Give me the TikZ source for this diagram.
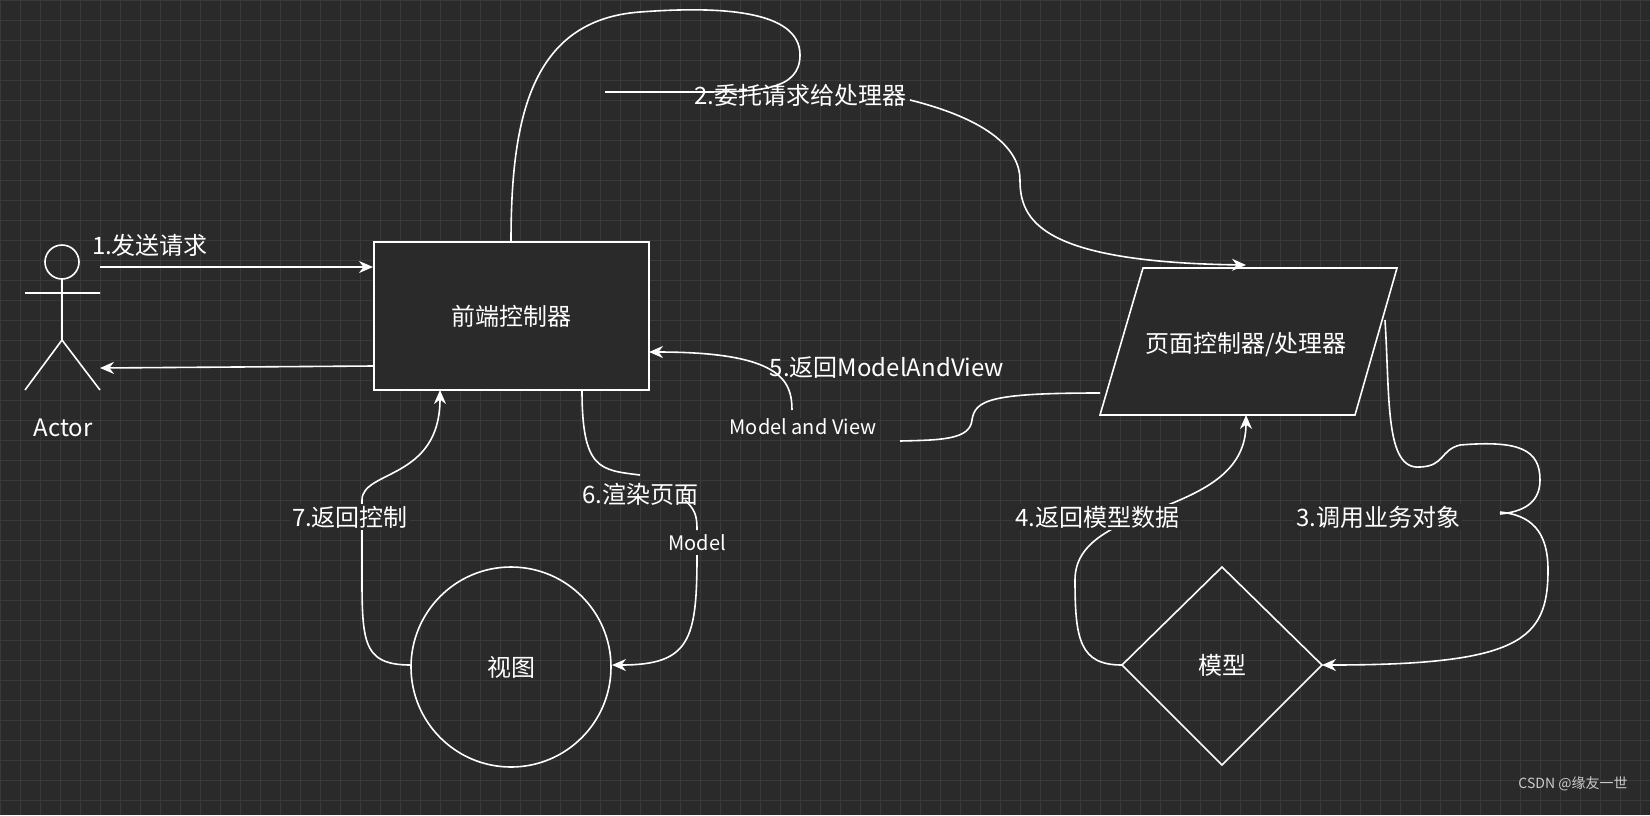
\documentclass[tikz,border=0pt]{standalone}
\usepackage{fontspec}
\setmainfont{Noto Sans CJK SC}
\usetikzlibrary{arrows.meta}
\begin{document}
\begin{tikzpicture}[x=1pt,y=-1pt,
  ln/.style={draw=white,line width=1.6pt},
  ar/.style={ln,-{Stealth[length=14pt,width=12pt]}},
  big/.style={text=white,font=\fontsize{24}{28}\selectfont,inner sep=0pt},
  sm/.style={text=white,font=\fontsize{20}{24}\selectfont,inner sep=1pt,fill=bg}]
\definecolor{bg}{HTML}{2A2A2A}
\definecolor{gr}{HTML}{3A3A3A}
\fill[bg] (0,0) rectangle (1650,815);
\useasboundingbox (0,0) rectangle (1650,815);
\foreach \i in {0,20,...,1640} \draw[gr,line width=0.6pt] (\i,0)--(\i,815);
\foreach \j in {0,20,...,800} \draw[gr,line width=0.6pt] (0,\j)--(1650,\j);
% actor
\node[draw=white,line width=1.6pt,circle,minimum size=34pt,inner sep=0] (head) at (62,262) {};
\coordinate (neck) at (62,279);
\coordinate (hip) at (62,340);
\draw[ln] (neck)--(hip) (25,293)--(100,293) (hip)--(25,390) (hip)--(100,390);
\node[big] (actor) at (63,428) {Actor};
% nodes
\node[draw=white,line width=1.6pt,fill=bg,minimum width=275pt,minimum height=148pt,big] (fc) at (511.5,316) {前端控制器};
\draw[ln,fill=bg] (1143,268)--(1397,268)--(1355,415)--(1100,415)--cycle;
\node[big] (pc) at (1246,345) {页面控制器/处理器};
\node[draw=white,line width=1.6pt,circle,minimum size=200pt,big] (view) at (511,667) {视图};
\draw[ln] (1222,567)--(1322,665)--(1222,765)--(1122,665)--cycle;
\node[big] (model) at (1222,665) {模型};
% 1
\coordinate (a1) at (100,267);
\draw[ar] (a1)--(373,267);
\node[big] (l1) at (150,245) {1.发送请求};
\draw[ar] (373,366)--(100,368);
% 2
\draw[ln] (511,242) .. controls (511,120) and (530,20) .. (640,12)
  .. controls (720,6) and (800,10) .. (800,55)
  .. controls (800,90) and (760,92) .. (700,92) -- (605,92);
\node[big] (l2) at (800,95) {2.委托请求给处理器};
\draw[ar] (910,100) .. controls (990,120) and (1020,150) .. (1020,180)
  .. controls (1020,220) and (1040,262) .. (1246,265);
% 5
\draw[ln] (1100,393) .. controls (990,393) and (975,400) .. (972,420)
  .. controls (970,440) and (940,440) .. (900,441);
\node[sm] (l5b) at (803,427) {Model and View};
\draw[ar] (792,410) .. controls (792,380) and (780,352) .. (649,352);
\node[big] (l5) at (887,368) {5.返回ModelAndView};
% 6
\draw[ln] (582,390) .. controls (582,470) and (600,470) .. (640,475);
\node[big] (l6) at (640,494) {6.渲染页面};
\draw[ln] (685,500) .. controls (695,510) and (697,515) .. (697,530);
\node[sm] (l6b) at (697,543) {Model};
\draw[ar] (697,555) .. controls (697,640) and (690,665) .. (612,665);
% 7
\draw[ar] (411,665) .. controls (360,665) and (362,640) .. (362,560)
  -- (362,500) .. controls (362,470) and (440,480) .. (440,390);
\node[big,fill=bg,inner sep=2pt] (l7) at (350,517) {7.返回控制};
% 4
\draw[ar] (1122,665) .. controls (1080,665) and (1075,640) .. (1075,580)
  .. controls (1075,500) and (1246,520) .. (1246,415);
\node[big,fill=bg,inner sep=2pt] (l4) at (1097,517) {4.返回模型数据};
% 3
\draw[ln] (1385,320) .. controls (1390,400) and (1385,470) .. (1420,467)
  .. controls (1445,466) and (1440,450) .. (1460,445)
  .. controls (1520,440) and (1540,450) .. (1540,480)
  .. controls (1540,505) and (1520,512) .. (1500,514);
\node[big,fill=bg,inner sep=2pt] (l3) at (1378,517) {3.调用业务对象};
\draw[ar] (1500,512) .. controls (1530,515) and (1548,530) .. (1548,570)
  .. controls (1548,640) and (1520,665) .. (1322,665);
\node[text=white!80!black,font=\fontsize{14}{16}\selectfont] (wm) at (1573,784) {CSDN @缘友一世};
\end{tikzpicture}
\end{document}
